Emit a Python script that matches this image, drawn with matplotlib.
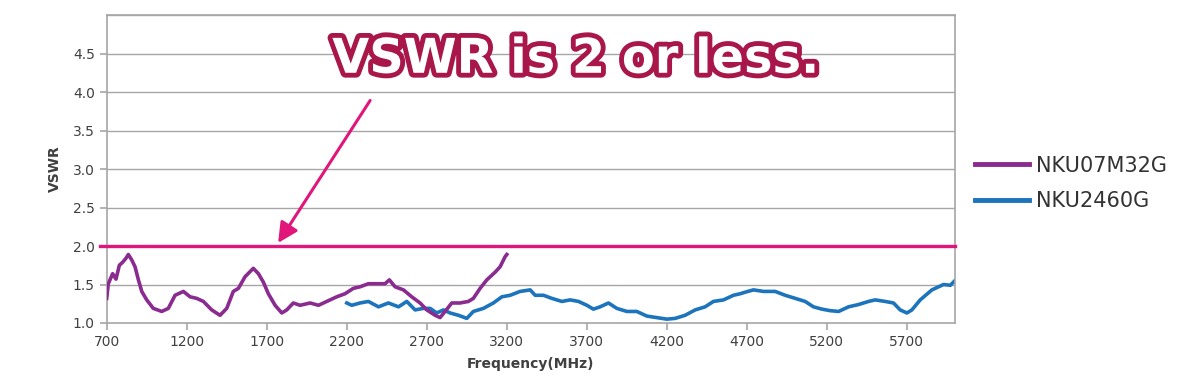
import matplotlib.pyplot as plt
import matplotlib.patheffects as pe

# NKU07M32G (purple)
freq_a = [700, 710, 737, 758, 779, 800, 820, 835, 856, 877, 898, 919, 950, 991,
          1044, 1085, 1127, 1179, 1221, 1262, 1304, 1356, 1408, 1450, 1491, 1523,
          1564, 1616, 1648, 1679, 1710, 1752, 1794, 1825, 1866, 1908, 1971, 2023,
          2075, 2137, 2189, 2241, 2283, 2335, 2398, 2439, 2466, 2502, 2554, 2606,
          2658, 2700, 2752, 2783, 2814, 2856, 2908, 2960, 2991, 3033, 3075, 3127,
          3158, 3189, 3200]
vswr_a = [1.32, 1.51, 1.64, 1.57, 1.75, 1.79, 1.84, 1.89, 1.82, 1.73, 1.56, 1.41,
          1.30, 1.19, 1.15, 1.19, 1.36, 1.41, 1.34, 1.32, 1.28, 1.17, 1.10, 1.19,
          1.41, 1.45, 1.60, 1.71, 1.64, 1.53, 1.38, 1.23, 1.13, 1.17, 1.26, 1.23,
          1.26, 1.23, 1.28, 1.34, 1.38, 1.45, 1.47, 1.51, 1.51, 1.51, 1.56, 1.47,
          1.43, 1.34, 1.26, 1.17, 1.10, 1.07, 1.15, 1.26, 1.26, 1.28, 1.32, 1.45,
          1.56, 1.66, 1.73, 1.86, 1.89]

# NKU2460G (blue)
freq_b = [2200, 2231, 2283, 2335, 2398, 2460, 2523, 2575, 2627, 2679, 2721, 2762,
          2804, 2846, 2898, 2950, 2991, 3054, 3116, 3169, 3221, 3283, 3346, 3377,
          3429, 3481, 3544, 3596, 3648, 3700, 3741, 3783, 3835, 3887, 3950, 4012,
          4075, 4137, 4200, 4252, 4314, 4377, 4439, 4491, 4554, 4616, 4658, 4689,
          4741, 4804, 4877, 4939, 5002, 5064, 5116, 5169, 5221, 5273, 5335, 5398,
          5460, 5502, 5564, 5616, 5658, 5700, 5731, 5783, 5856, 5929, 5971, 6000]
vswr_b = [1.26, 1.23, 1.26, 1.28, 1.21, 1.26, 1.21, 1.28, 1.17, 1.19, 1.19, 1.13,
          1.17, 1.13, 1.10, 1.06, 1.15, 1.19, 1.26, 1.34, 1.36, 1.41, 1.43, 1.36,
          1.36, 1.32, 1.28, 1.30, 1.28, 1.23, 1.18, 1.21, 1.26, 1.19, 1.15, 1.15,
          1.09, 1.07, 1.05, 1.06, 1.10, 1.17, 1.21, 1.28, 1.30, 1.36, 1.38, 1.40,
          1.43, 1.41, 1.41, 1.36, 1.32, 1.28, 1.21, 1.18, 1.16, 1.15, 1.21, 1.24,
          1.28, 1.30, 1.28, 1.26, 1.17, 1.13, 1.17, 1.30, 1.43, 1.50, 1.49, 1.55]

limit = 2.0
x_ticks = [700, 1200, 1700, 2200, 2700, 3200, 3700, 4200, 4700, 5200, 5700]
y_ticks = [1.0, 1.5, 2.0, 2.5, 3.0, 3.5, 4.0, 4.5]

# arrow from the headline down to the limit line
arrow_tail = (2346, 3.89)
arrow_head = (1771, 2.04)

purple = '#8a2c8f'
blue = '#1c74bc'
pink = '#e1167b'
crimson = '#a8164a'
grey = '#a6a6a6'
text_col = '#404040'

fig = plt.figure(figsize=(11.91, 3.90), dpi=100)
ax = fig.add_axes([0.0896, 0.1718, 0.7122, 0.7897])

for y in y_ticks[1:] + [5.0]:
    ax.axhline(y, color=grey, lw=1.0, zorder=0)

ax.plot(freq_a, vswr_a, color=purple, lw=2.6, label='NKU07M32G', zorder=3)
ax.plot(freq_b, vswr_b, color=blue, lw=2.6, label='NKU2460G', zorder=2)
# limit line pokes a little past the left spine, like in the original
ax.plot([660, 6000], [limit, limit], color=pink, lw=2.4, zorder=4, clip_on=False)

ax.set_xlim(700, 6000)
ax.set_ylim(1.0, 5.0)
ax.set_xticks(x_ticks)
ax.set_yticks(y_ticks)
ax.set_yticklabels([f'{v:.1f}' for v in y_ticks])
ax.tick_params(colors=grey, labelcolor=text_col, labelsize=10, length=5, width=1.2)
for s in ax.spines.values():
    s.set_color(grey)
    s.set_linewidth(1.2)

ax.set_xlabel('Frequency(MHz)', fontsize=10, fontweight='bold', color=text_col, labelpad=6)
ax.set_ylabel('VSWR', fontsize=10, fontweight='bold', color=text_col, labelpad=8)

ax.annotate('', xy=arrow_head, xytext=arrow_tail,
            arrowprops=dict(arrowstyle='-|>', color=pink, lw=2.2, mutation_scale=30,
                            shrinkA=0, shrinkB=0), zorder=5)

fig.text(0.483, 0.848, 'VSWR is 2 or less.', ha='center', va='center',
         fontsize=34.5, fontweight='bold', color='white',
         path_effects=[pe.withStroke(linewidth=7, foreground=crimson)])

leg = ax.legend(loc='center left', bbox_to_anchor=(1.024, 0.453), frameon=False,
                fontsize=15, handlelength=2.6, labelspacing=0.75, handletextpad=0.3,
                borderpad=0, borderaxespad=0)
for line in leg.get_lines():
    line.set_linewidth(3.5)
for t in leg.get_texts():
    t.set_color('#333333')

fig.savefig('out.png', dpi=100)
